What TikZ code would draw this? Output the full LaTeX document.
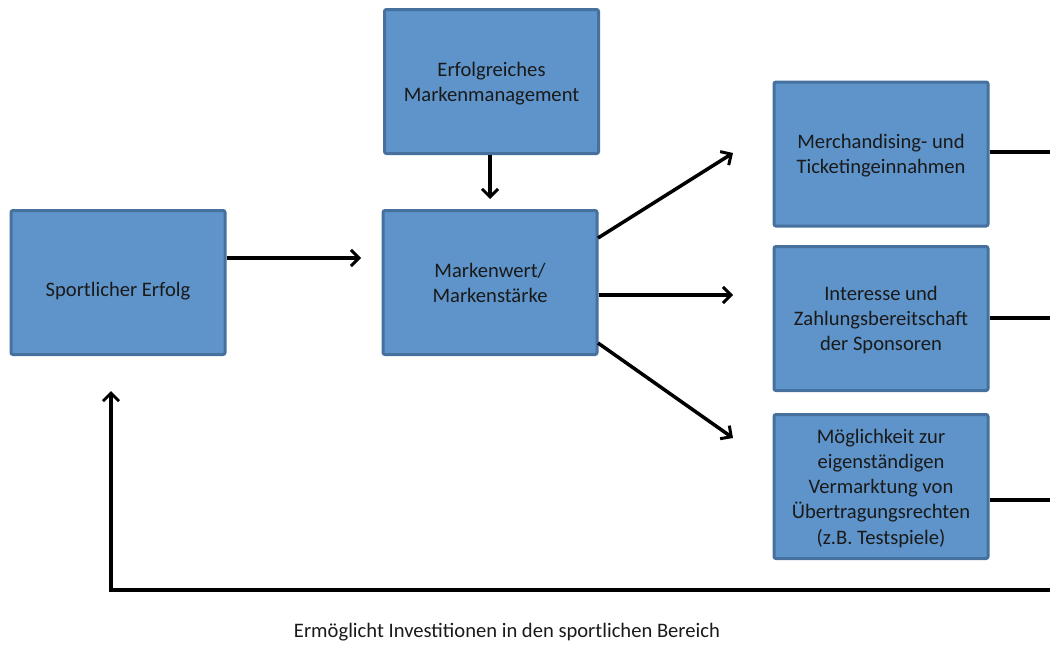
\documentclass[tikz,border=0pt]{standalone}
\usepackage{fontspec}
\setmainfont{Carlito}
\usetikzlibrary{arrows.meta}
\definecolor{boxfill}{HTML}{5E94CA}
\definecolor{boxline}{HTML}{46709E}
\definecolor{txt}{HTML}{1A1A1A}
\tikzset{
  blk/.style={draw=boxline, fill=boxfill, line width=3pt, rounded corners=2pt,
    minimum width=214pt, minimum height=144pt, align=center, text=txt,
    font=\fontsize{20.6}{25.2}\selectfont, inner sep=0pt, text depth=-7.5pt},
  conn/.style={line width=3.5pt, black},
  arr/.style={conn, -{Straight Barb[length=8pt,width=16pt,line width=3pt]}},
  lbl/.style={text=txt, font=\fontsize{20.6}{25.2}\selectfont, inner sep=0pt}
}
\begin{document}
\begin{tikzpicture}[x=1pt,y=-1pt]
\useasboundingbox (0,0) rectangle (1050,645);
\node[blk, text height=33pt, text depth=4.5pt] (sport) at (118,282.5) {Sportlicher Erfolg};
\node[blk] (mgmt) at (491.5,81.5) {Erfolgreiches\\Markenmanagement};
\node[blk] (wert) at (490,282.5) {Markenwert/\\Markenstärke};
\node[blk] (merch) at (881,154) {Merchandising- und\\Ticketingeinnahmen};
\node[blk] (spons) at (881,318.5) {Interesse und\\Zahlungsbereitschaft\\der Sponsoren};
\node[blk] (tv) at (881,486.5) {Möglichkeit zur\\eigenständigen\\Vermarktung von\\Übertragungsrechten\\(z.B. Testspiele)};
\node[lbl] (note) at (507,632) {Ermöglicht Investitionen in den sportlichen Bereich};

\coordinate (t1) at (361,258);
\coordinate (t2) at (733,153);
\coordinate (t3) at (733,295);
\coordinate (t4) at (733,438);
\coordinate (t5) at (490,199);
\coordinate (r1) at (1050,152);
\coordinate (r2) at (1050,318);
\coordinate (r3) at (1050,500);
\coordinate (b1) at (1050,590);
\coordinate (b2) at (111,590);
\coordinate (b3) at (111,391);

\draw[arr] (sport.east |- t1) -- (t1);
\draw[arr] (t5 |- mgmt.south) -- (t5);
\draw[arr] (598,238) -- (t2);
\draw[arr] (wert.east |- t3) -- (t3);
\draw[arr] (598,343) -- (t4);
\draw[conn] (merch.east |- r1) -- (r1);
\draw[conn] (spons.east |- r2) -- (r2);
\draw[conn] (tv.east |- r3) -- (r3);
\draw[arr, line join=miter] (b1) -- (b2) -- (b3);
\end{tikzpicture}
\end{document}
